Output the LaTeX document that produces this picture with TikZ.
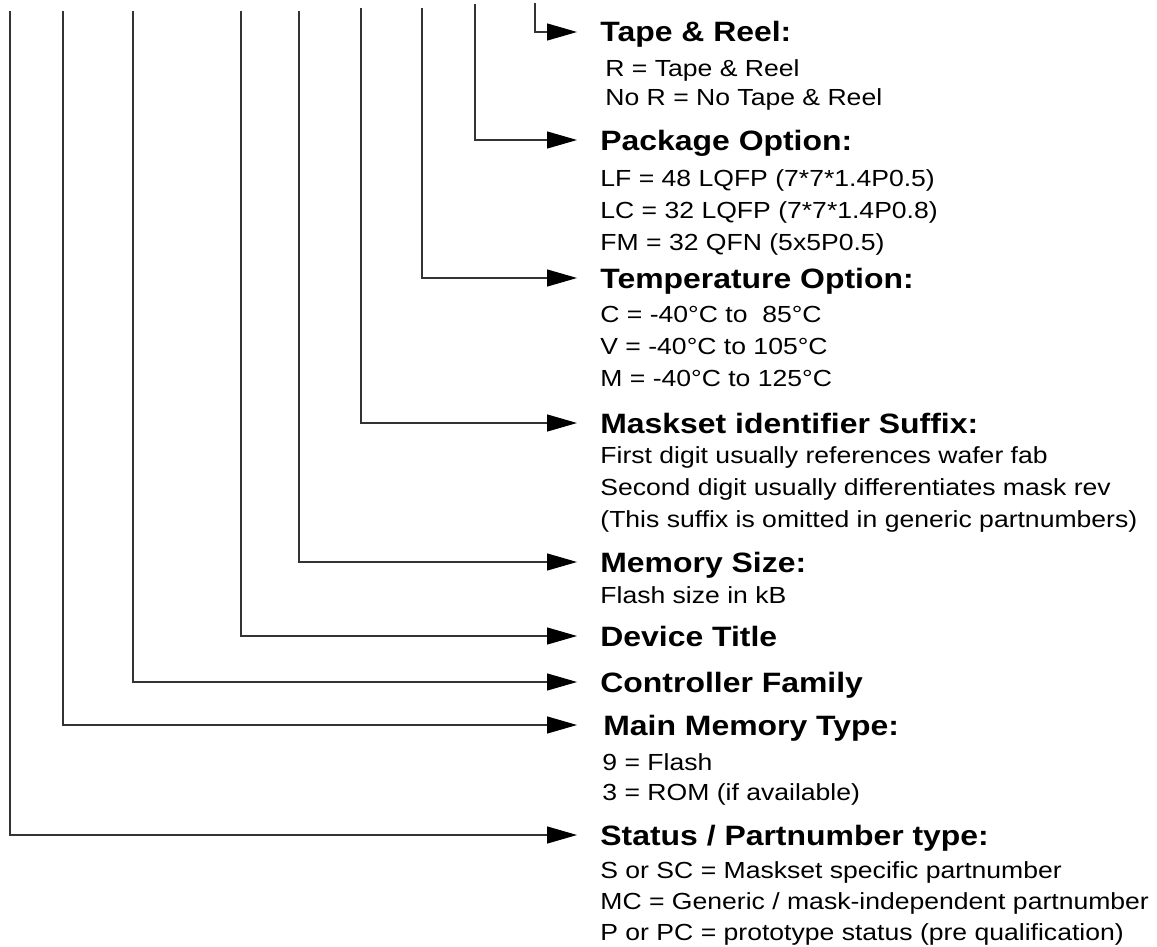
\documentclass[tikz,border=0pt]{standalone}
\usepackage{fontspec}
\setmainfont{Liberation Sans}[FakeStretch=1.14]
\usepackage{tikz}
\usetikzlibrary{arrows.meta}

\begin{document}
\begin{tikzpicture}[
    x=0.5pt, y=-0.5pt,
    head/.style={
        anchor=west, inner xsep=11.5pt, inner ysep=0pt,
        text height=10pt, text depth=0pt,
        font=\fontsize{14}{16}\selectfont\bfseries
    },
    detail/.style={
        anchor=north west, inner sep=0pt, align=left,
        font=\fontsize{11.65}{#1}\selectfont
    },
    detail/.default=16pt,
    arrow/.style={-{Triangle[length=15pt, width=8.5pt, black]}, line width=0.6pt, black!80}
]
\useasboundingbox (0,0) rectangle (1157,947);

% Field headings and their options
\node[head] (tape) at (577,32) {Tape \& Reel:};
\node[detail=14.5pt] (tapeopt) at (605,59) {
    R = Tape \& Reel\\
    No R = No Tape \& Reel
};

\node[head] (pkg) at (577,140) {Package Option:};
\node[detail] (pkgopt) at (600,169) {
    LF = 48 LQFP (7*7*1.4P0.5)\\
    LC = 32 LQFP (7*7*1.4P0.8)\\
    FM = 32 QFN (5x5P0.5)
};

\node[head] (temp) at (577,278) {Temperature Option:};
\node[detail] (tempopt) at (600,306) {
    C = -40°C to\ \ 85°C\\
    V = -40°C to 105°C\\
    M = -40°C to 125°C
};

\node[head] (mask) at (577,423) {Maskset identifier Suffix:};
\node[detail] (maskopt) at (600,446) {
    First digit usually references wafer fab\\
    Second digit usually differentiates mask rev\\
    (This suffix is omitted in generic partnumbers)
};

\node[head] (memsize) at (577,562) {Memory Size:};
\node[detail] (memsizeopt) at (600,586) {Flash size in kB};

\node[head] (title) at (577,636) {Device Title};
\node[head] (family) at (577,682) {Controller Family};

\node[head, inner xsep=13pt] (memtype) at (577,725) {Main Memory Type:};
\node[detail=15pt] (memtypeopt) at (602,753) {
    9 = Flash\\
    3 = ROM (if available)
};

\node[head] (status) at (577,835) {Status / Partnumber type:};
\node[detail=15.5pt] (statusopt) at (600,861) {
    S or SC = Maskset specific partnumber\\
    MC = Generic / mask-independent partnumber\\
    P or PC = prototype status (pre qualification)
};

% Tops of the leader lines
\coordinate (status-top) at (10,11);
\coordinate (memtype-top) at (63,11);
\coordinate (family-top) at (133,11);
\coordinate (title-top) at (241,11);
\coordinate (memsize-top) at (299,11);
\coordinate (mask-top) at (361,8);
\coordinate (temp-top) at (422,8);
\coordinate (pkg-top) at (475,4);
\coordinate (tape-top) at (535,3);

% Leaders
\draw[arrow] (status-top) |- (status.west);
\draw[arrow] (memtype-top) |- (memtype.west);
\draw[arrow] (family-top) |- (family.west);
\draw[arrow] (title-top) |- (title.west);
\draw[arrow] (memsize-top) |- (memsize.west);
\draw[arrow] (mask-top) |- (mask.west);
\draw[arrow] (temp-top) |- (temp.west);
\draw[arrow] (pkg-top) |- (pkg.west);
\draw[arrow] (tape-top) |- (tape.west);
\end{tikzpicture}
\end{document}
